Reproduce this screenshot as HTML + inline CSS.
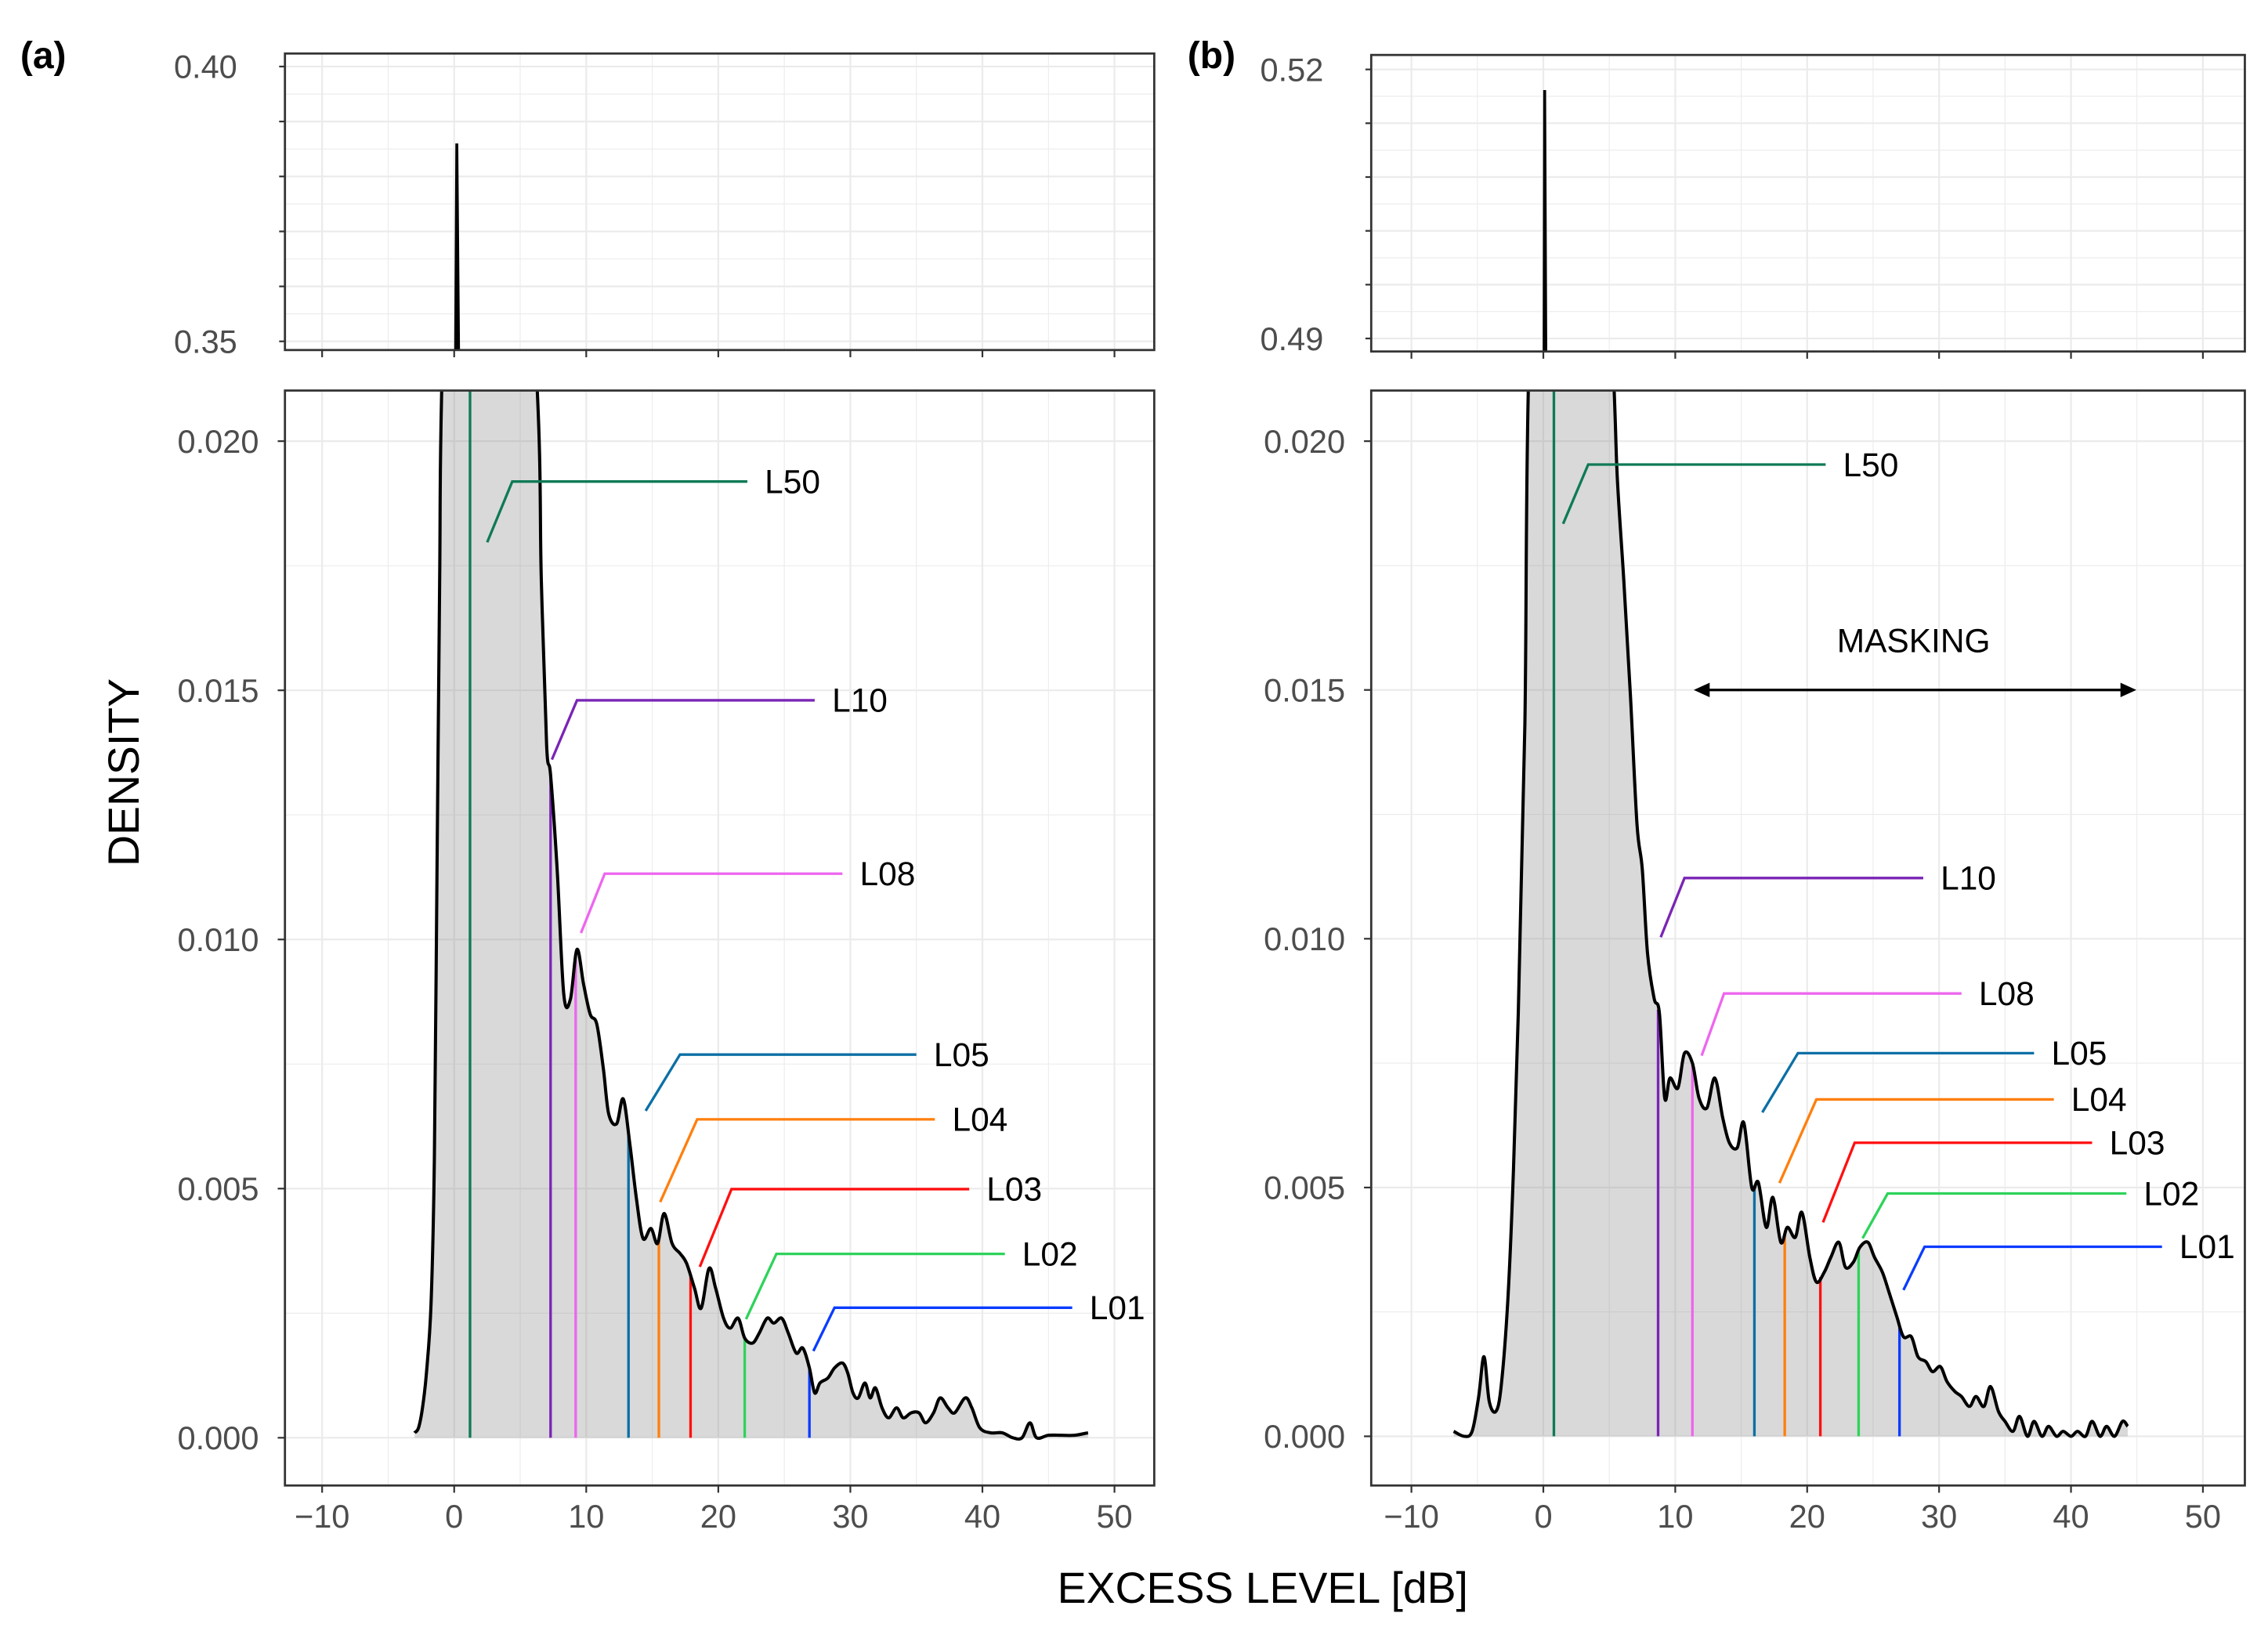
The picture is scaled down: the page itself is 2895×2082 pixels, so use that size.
<!DOCTYPE html>
<html><head><meta charset="utf-8"><style>
html,body{margin:0;padding:0;background:#fff;}
svg{display:block;font-family:"Liberation Sans",Arial,sans-serif;}
</style></head><body>
<svg id="chart" width="2895" height="2082" viewBox="0 0 1568 1127.6" preserveAspectRatio="none" xmlns="http://www.w3.org/2000/svg">
<defs>
<clipPath id="cTA"><rect x="197" y="37" width="601" height="205"/></clipPath>
<clipPath id="cBA"><rect x="197" y="270" width="601" height="757"/></clipPath>
<clipPath id="cTB"><rect x="948" y="38" width="604" height="205"/></clipPath>
<clipPath id="cBB"><rect x="948" y="270" width="604" height="757"/></clipPath>
</defs>
<text x="14" y="47" font-size="26" font-weight="bold">(a)</text>
<text x="821" y="47" font-size="26" font-weight="bold">(b)</text>
<text transform="translate(96,534) rotate(-90)" text-anchor="middle" font-size="30">DENSITY</text>
<text x="873" y="1108" text-anchor="middle" font-size="30">EXCESS LEVEL [dB]</text>
<g id="root"></g>
</svg>
<script>
// Panel (a) density curve
const aX = [-3,-2.7,-2.4,-2.1,-1.75,-1.5,-1.3,-1.1,-0.9,0.2,4,6.2,6.6,7.0,7.3,7.8,8.3,8.8,9.3,9.8,10.3,10.8,11.3,11.7,12.3,12.8,13.3,13.8,14.3,14.9,15.4,15.9,16.5,17.1,17.6,18.2,18.7,19.3,19.8,20.4,20.9,21.5,22.0,22.6,23.1,23.7,24.2,24.8,25.3,25.9,26.4,26.9,27.3,27.7,28.3,28.8,29.4,29.8,30.2,30.6,31.1,31.5,31.9,32.4,32.9,33.5,34.0,34.6,35.2,35.7,36.3,36.8,37.4,37.9,38.7,39.2,39.8,40.6,41.5,42.3,43.0,43.6,44.1,45,46,47,48];
const aY = [0.0001,0.0002,0.0006,0.0013,0.0027,0.0056,0.0114,0.0172,0.0215,0.03,0.03,0.0215,0.0172,0.0139,0.0133,0.0114,0.0089,0.0088,0.0098,0.0091,0.0085,0.0083,0.0074,0.0065,0.0063,0.0068,0.0059,0.0048,0.0040,0.0042,0.0039,0.0045,0.0039,0.0037,0.0035,0.0030,0.0026,0.0034,0.0030,0.0024,0.0022,0.0024,0.0020,0.0019,0.0021,0.0024,0.0023,0.0024,0.0021,0.0017,0.0018,0.0014,0.0009,0.0011,0.0012,0.0014,0.0015,0.0013,0.0009,0.0008,0.0011,0.0008,0.0010,0.0006,0.0004,0.0006,0.0004,0.0005,0.0005,0.0003,0.0005,0.0008,0.0006,0.0005,0.0008,0.0006,0.0002,0.0001,0.0001,0.0,0.0,0.0003,0.0,0.00005,0.00005,0.00005,0.0001];
// Panel (b) density curve
const bX = [-6.8,-6.0,-5.4,-4.9,-4.5,-4.1,-3.6,-3.2,-2.7,-2.3,-1.9,-1.4,-1.1,0.1,4,5.3,5.6,6.1,6.6,7.1,7.5,7.9,8.4,8.8,9.2,9.6,10.2,10.7,11.3,11.8,12.4,13.0,13.6,14.1,14.7,15.2,15.8,16.3,16.9,17.4,18.0,18.5,19.1,19.6,20.2,20.7,21.3,21.8,22.4,22.9,23.5,24.0,24.6,25.1,25.7,26.2,26.8,27.3,27.9,28.4,29.0,29.5,30.1,30.6,31.2,31.7,32.3,32.8,33.4,33.9,34.5,35.0,35.6,36.1,36.7,37.2,37.8,38.3,38.9,39.4,40.0,40.5,41.1,41.6,42.2,42.7,43.3,43.9,44.3];
const bY = [0.0001,0.0,0.0001,0.0008,0.0016,0.0007,0.0005,0.0010,0.0027,0.0051,0.0085,0.0143,0.0215,0.03,0.03,0.0215,0.0193,0.0172,0.0149,0.0123,0.0114,0.0097,0.0088,0.0085,0.0068,0.0072,0.0070,0.0077,0.0075,0.0068,0.0066,0.0072,0.0064,0.0059,0.0058,0.0063,0.0050,0.0051,0.0042,0.0048,0.0039,0.0042,0.0040,0.0045,0.0036,0.0031,0.0033,0.0036,0.0039,0.0034,0.0035,0.0038,0.0039,0.0036,0.0033,0.0029,0.0024,0.0020,0.0020,0.0016,0.0015,0.0013,0.0014,0.0011,0.0009,0.0008,0.0006,0.0008,0.0006,0.0010,0.0005,0.0003,0.0001,0.0004,0.0,0.0003,0.0,0.0002,0.0,0.0001,0.0,0.0001,0.0,0.0003,0.0,0.0002,0.0,0.0003,0.0002];
// Spikes in top panels
const aSpikeX = [0.0,0.2,0.5]; const aSpikeY = [0.30,0.386,0.30];
const bSpikeX = [0.0,0.1,0.3]; const bSpikeY = [0.45,0.5177,0.45];
// Percentile levels
const levelNames = ["L50","L10","L08","L05","L04","L03","L02","L01"];
const levelColors = ["#0f7a55","#7a25b5","#ee66ee","#0c6fa5","#ff7f0e","#ff1010","#2ed35a","#0a3cff"];
const aLevels = [1.2,7.3,9.2,13.2,15.5,17.9,22.0,26.9];
const bLevels = [0.8,8.7,11.3,16.0,18.3,21.0,23.9,27.0];
// Label leader lines: start, elbow, end (data units)
const aLabX0 = [2.5,7.4,9.6,14.5,15.6,18.6,22.1,27.2];
const aLabY0 = [0.01797,0.01361,0.01013,0.00656,0.00473,0.00343,0.00238,0.00174];
const aLabX1 = [4.4,9.3,11.4,17.1,18.4,21.0,24.4,28.8];
const aLabY1 = [0.01919,0.01480,0.01132,0.00769,0.00639,0.00499,0.00369,0.00261];
const aLabX2 = [22.2,27.3,29.4,35.0,36.4,39.0,41.7,46.8];
const bLabX0 = [1.5,8.9,12.0,16.6,17.9,21.2,24.2,27.3];
const bLabY0 = [0.01834,0.01003,0.00765,0.00651,0.00509,0.0043,0.00398,0.00294];
const bLabX1 = [3.4,10.7,13.7,19.3,20.7,23.6,26.1,28.9];
const bLabY1 = [0.01953,0.01122,0.00890,0.00770,0.00677,0.0059,0.00488,0.00381];
const bLabX2 = [21.4,28.8,31.7,37.2,38.7,41.6,44.2,46.9];
const xTicks = [-10,0,10,20,30,40,50];
const yTicks = [0,0.005,0.01,0.015,0.02];
const yTickLabels = ["0.000","0.005","0.010","0.015","0.020"];
const aTopTicks = [0.35,0.36,0.37,0.38,0.39,0.40];
const bTopTicks = [0.49,0.496,0.502,0.508,0.514,0.52];

const NS="http://www.w3.org/2000/svg";
const root=document.getElementById('root');
function mk(tag,attrs,parent){const e=document.createElementNS(NS,tag);for(const k in attrs)e.setAttribute(k,attrs[k]);(parent||root).appendChild(e);return e;}
function interp(xs,ys,x){for(let i=0;i<xs.length-1;i++){if(x>=xs[i]&&x<=xs[i+1]){const t=(x-xs[i])/(xs[i+1]-xs[i]);return ys[i]+t*(ys[i+1]-ys[i]);}}return 0;}
function smoothPath(pts){let d='M'+pts[0][0]+','+pts[0][1];for(let i=0;i<pts.length-1;i++){const p0=pts[Math.max(0,i-1)],p1=pts[i],p2=pts[i+1],p3=pts[Math.min(pts.length-1,i+2)];const c1x=p1[0]+(p2[0]-p0[0])/6,c1y=p1[1]+(p2[1]-p0[1])/6,c2x=p2[0]-(p3[0]-p1[0])/6,c2y=p2[1]-(p3[1]-p1[1])/6;d+=' C'+c1x+','+c1y+' '+c2x+','+c2y+' '+p2[0]+','+p2[1];}return d;}

function panel(cfg){
  const {L,R,tT,tB,bT,bB,x0,x10,y0,y020,topV0,topY0,topV1,topY1,clipT,clipB,X,Y,sX,sY,levels,lx0,ly0,lx1,ly1,lx2,topTicks,topLab,id}=cfg;
  const sx=v=>x0+(x10-x0)*v/10;
  const sy=v=>y0+(y020-y0)*v/0.02;
  const ty=v=>topY0+(topY1-topY0)*(v-topV0)/(topV1-topV0);
  const g=mk('g',{});
  
  
  for(let v=-15;v<=55;v+=5){const x=sx(v);if(x<L||x>R)continue;const maj=v%10===0;
    mk('line',{x1:x,x2:x,y1:tT,y2:tB,stroke:'#ebebeb','stroke-width':maj?1.2:0.6},g);
    mk('line',{x1:x,x2:x,y1:bT,y2:bB,stroke:'#ebebeb','stroke-width':maj?1.2:0.6},g);}
  for(let v=-0.0025;v<=0.0225;v+=0.0025){const y=sy(v);if(y<bT||y>bB)continue;const maj=Math.abs(Math.round(v/0.005)*0.005-v)<1e-6;
    mk('line',{x1:L,x2:R,y1:y,y2:y,stroke:'#ebebeb','stroke-width':maj?1.2:0.6},g);}
  const st=topTicks[1]-topTicks[0];
  for(let i=0;i<topTicks.length;i++){const y=ty(topTicks[i]);mk('line',{x1:L,x2:R,y1:y,y2:y,stroke:'#ebebeb','stroke-width':1.2},g);
    const ym=ty(topTicks[i]+st/2);if(i<topTicks.length-1)mk('line',{x1:L,x2:R,y1:ym,y2:ym,stroke:'#ebebeb','stroke-width':0.6},g);
    mk('line',{x1:L-4,x2:L,y1:y,y2:y,stroke:'#333','stroke-width':1.2},g);}
  topLab.forEach(v=>{const t=mk('text',{x:L-33,y:ty(v)+8,'text-anchor':'end','font-size':22.5,fill:'#4d4d4d'},g);t.textContent=v.toFixed(2);
    
    });
  const pts=X.map((x,i)=>[sx(x),sy(Y[i])]);
  const cg=mk('g',{'clip-path':'url(#'+clipB+')'},g);
  const line=smoothPath(pts);
  const area=mk('path',{d:line+' L'+pts[pts.length-1][0]+','+sy(0)+' L'+pts[0][0]+','+sy(0)+' Z',fill:'rgba(140,140,140,0.33)'},cg);
  
  
  levels.forEach((lv,i)=>{const l=mk('line',{x1:sx(lv),x2:sx(lv),y1:sy(0),y2:sy(interp(X,Y,lv)),stroke:levelColors[i],'stroke-width':1.8},cg);
    
    });
  const cl=mk('path',{d:line,fill:'none',stroke:'#000','stroke-width':2.2,'stroke-linejoin':'round'},cg);
  
  
  const tg=mk('g',{'clip-path':'url(#'+clipT+')'},g);
  const sp=sX.map((x,i)=>sx(x)+','+ty(sY[i])).join(' ');
  const spk=mk('polyline',{points:sp,fill:'rgba(140,140,140,0.33)',stroke:'#000','stroke-width':2},tg);
  
  
  levels.forEach((lv,i)=>{const p=[[sx(lx0[i]),sy(ly0[i])],[sx(lx1[i]),sy(ly1[i])],[sx(lx2[i]),sy(ly1[i])]];
    const pl=mk('polyline',{points:p.map(q=>q.join(',')).join(' '),fill:'none',stroke:levelColors[i],'stroke-width':1.8},g);
    
    
    const t=mk('text',{x:sx(lx2[i])+12,y:sy(ly1[i])+8,'font-size':23,fill:'#000'},g);t.textContent=levelNames[i];
    
    });
  mk('rect',{x:L,y:tT,width:R-L,height:tB-tT,fill:'none',stroke:'#333','stroke-width':1.5},g);
  mk('rect',{x:L,y:bT,width:R-L,height:bB-bT,fill:'none',stroke:'#333','stroke-width':1.5},g);
  xTicks.forEach(v=>{const x=sx(v);mk('line',{x1:x,x2:x,y1:tB,y2:tB+5,stroke:'#333','stroke-width':1.2},g);
    mk('line',{x1:x,x2:x,y1:bB,y2:bB+5,stroke:'#333','stroke-width':1.2},g);
    const t=mk('text',{x:x,y:bB+29,'text-anchor':'middle','font-size':22.5,fill:'#4d4d4d'},g);t.textContent=(v<0?'\u2212'+(-v):v);
    
    });
  yTicks.forEach((v,i)=>{const y=sy(v);mk('line',{x1:L-5,x2:L,y1:y,y2:y,stroke:'#333','stroke-width':1.2},g);
    const t=mk('text',{x:L-18,y:y+8,'text-anchor':'end','font-size':22.5,fill:'#4d4d4d'},g);t.textContent=yTickLabels[i];
    
    });
  return sx;
}
panel({id:'a',L:197,R:798,tT:37,tB:242,bT:270,bB:1027,x0:314,x10:405.3,y0:994,y020:305,topV0:0.35,topY0:236,topV1:0.40,topY1:46,clipT:'cTA',clipB:'cBA',X:aX,Y:aY,sX:aSpikeX,sY:aSpikeY,levels:aLevels,lx0:aLabX0,ly0:aLabY0,lx1:aLabX1,ly1:aLabY1,lx2:aLabX2,topTicks:aTopTicks,topLab:[0.40,0.35]});
panel({id:'b',L:948,R:1552,tT:38,tB:243,bT:270,bB:1027,x0:1067,x10:1158.2,y0:993,y020:305,topV0:0.49,topY0:234,topV1:0.52,topY1:48,clipT:'cTB',clipB:'cBB',X:bX,Y:bY,sX:bSpikeX,sY:bSpikeY,levels:bLevels,lx0:bLabX0,ly0:bLabY0,lx1:bLabX1,ly1:bLabY1,lx2:bLabX2,topTicks:bTopTicks,topLab:[0.52,0.49]});
const mt=mk('text',{x:1323,y:451,'text-anchor':'middle','font-size':23,fill:'#000'});mt.textContent='MASKING';


const ma=mk('g',{});


mk('line',{x1:1174,x2:1474,y1:477,y2:477,stroke:'#000','stroke-width':1.8},ma);
mk('polygon',{points:'1171,477 1182,472 1182,482',fill:'#000'},ma);
mk('polygon',{points:'1477,477 1466,472 1466,482',fill:'#000'},ma);
</script>
</body></html>
